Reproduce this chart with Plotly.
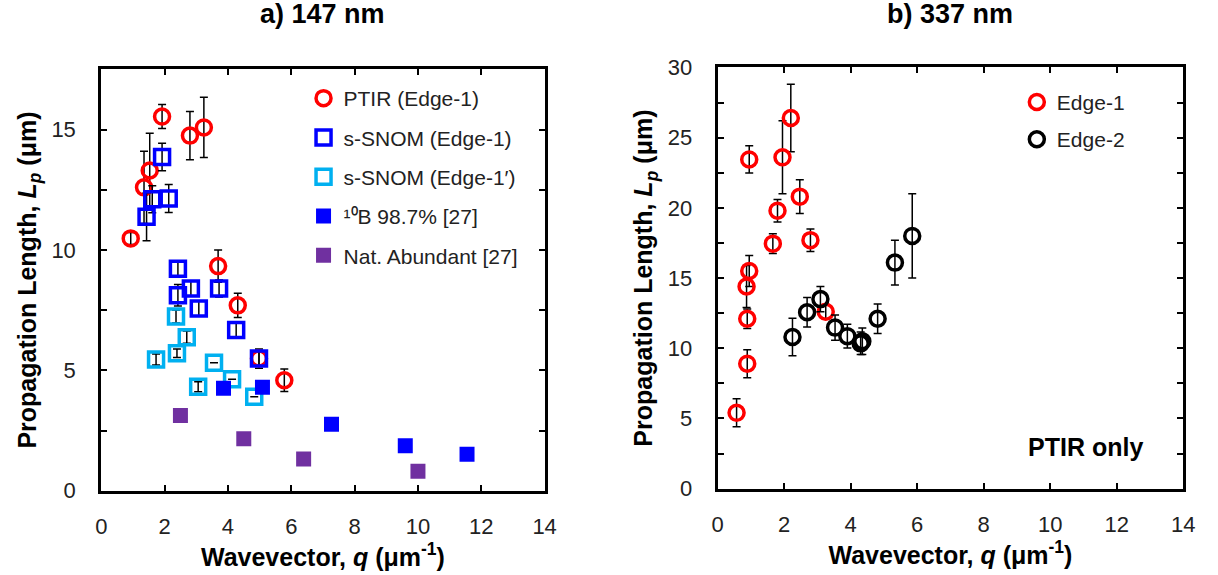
import plotly.graph_objects as go

# ---- panel a) 147 nm ----
ptir_q = [0.93, 1.35, 1.53, 1.92, 2.80, 3.24, 3.69, 4.31, 4.98, 5.78]
ptir_L = [10.48, 12.60, 13.30, 15.54, 14.75, 15.09, 9.33, 7.70, 5.49, 4.59]
ptir_err = [0.25, 1.5, 1.55, 0.5, 1.0, 1.25, 0.67, 0.5, 0.4, 0.47]

snom1_q = [1.43, 1.61, 1.92, 2.13, 2.42, 2.42, 2.83, 3.08, 3.72, 4.26, 4.98]
snom1_L = [11.38, 12.11, 13.86, 12.14, 9.22, 8.12, 8.40, 7.57, 8.40, 6.68, 5.49]
snom1_err = [1.0, 0.56, 0.57, 0.58, 0.3, 0.45, 0.3, 0.3, 0.35, 0.3, 0.3]

snom2_q = [1.73, 2.36, 2.39, 2.70, 3.06, 3.56, 4.13, 4.83]
snom2_L = [5.45, 7.24, 5.71, 6.38, 4.32, 5.32, 4.63, 3.90]
snom2_err = [0.23, 0.27, 0.18, 0.25, 0.21, 0, 0, 0]

b10_q = [3.86, 5.09, 7.27, 9.60, 11.55]
b10_L = [4.26, 4.30, 2.76, 1.87, 1.52]

nat_q = [2.50, 4.50, 6.39, 10.0]
nat_L = [3.12, 2.16, 1.32, 0.81]

# ---- panel b) 337 nm ----
e1_q = [0.57, 0.89, 0.89, 0.87, 0.95, 0.95, 1.66, 1.80, 1.95, 2.20, 2.47, 2.79, 3.25]
e1_L = [5.4, 8.9, 12.1, 14.4, 15.5, 23.45, 17.45, 19.8, 23.6, 26.4, 20.8, 17.7, 12.6]
e1_err = [1.0, 1.0, 0.7, 1.5, 1.1, 0.97, 0.7, 0.8, 2.6, 2.4, 1.2, 0.8, 0.5]

e2_q = [2.25, 2.69, 3.09, 3.53, 3.90, 4.30, 4.35, 4.81, 5.33, 5.85]
e2_L = [10.8, 12.56, 13.5, 11.47, 10.86, 10.35, 10.5, 12.1, 16.1, 18.0]
e2_err = [1.34, 1.05, 0.9, 0.9, 0.85, 0.8, 0.95, 1.05, 1.6, 3.0]

RED = "#FF0000"
BLUE = "#0000FF"
CYAN = "#00B0F0"
PURPLE = "#7030A0"
FONT = "Liberation Sans, Arial, sans-serif"


def errbar(vals):
    return dict(type="data", array=vals, visible=True, color="black",
                thickness=1.5, width=4)


def open_marker(symbol, color):
    # open symbols take their stroke colour from marker.color
    return dict(symbol=symbol, size=15, color=color,
                line=dict(color=color, width=3.5))


fig = go.Figure()

fig.add_trace(go.Scatter(x=ptir_q, y=ptir_L, error_y=errbar(ptir_err), mode="markers",
                         marker=open_marker("circle-open", RED), name="PTIR (Edge-1)",
                         xaxis="x", yaxis="y", legend="legend", legendgroup="a1"))
fig.add_trace(go.Scatter(x=snom1_q, y=snom1_L, error_y=errbar(snom1_err), mode="markers",
                         marker=open_marker("square-open", BLUE), name="s-SNOM (Edge-1)",
                         xaxis="x", yaxis="y", legend="legend", legendgroup="a2"))
fig.add_trace(go.Scatter(x=snom2_q, y=snom2_L, error_y=errbar(snom2_err), mode="markers",
                         marker=open_marker("square-open", CYAN), name="s-SNOM (Edge-1′)",
                         xaxis="x", yaxis="y", legend="legend", legendgroup="a3"))
fig.add_trace(go.Scatter(x=b10_q, y=b10_L, mode="markers",
                         marker=dict(symbol="square", size=15, color=BLUE),
                         name="¹⁰B 98.7% [27]",
                         xaxis="x", yaxis="y", legend="legend", legendgroup="a4"))
fig.add_trace(go.Scatter(x=nat_q, y=nat_L, mode="markers",
                         marker=dict(symbol="square", size=15, color=PURPLE),
                         name="Nat. Abundant [27]",
                         xaxis="x", yaxis="y", legend="legend", legendgroup="a5"))

fig.add_trace(go.Scatter(x=e1_q, y=e1_L, error_y=errbar(e1_err), mode="markers",
                         marker=open_marker("circle-open", RED), name="Edge-1",
                         xaxis="x2", yaxis="y2", legend="legend2", legendgroup="b1"))
fig.add_trace(go.Scatter(x=e2_q, y=e2_L, error_y=errbar(e2_err), mode="markers",
                         marker=open_marker("circle-open", "black"), name="Edge-2",
                         xaxis="x2", yaxis="y2", legend="legend2", legendgroup="b2"))

W, H = 1218, 575
tickfont = dict(family=FONT, size=22, color="#222222")
titlefont = dict(family=FONT, size=25, color="black")


def xax(domain, anchor):
    return dict(domain=domain, anchor=anchor, range=[0, 14], dtick=2,
                ticks="inside", ticklen=6, tickwidth=2, tickcolor="black",
                ticklabelstandoff=14,
                showline=True, linewidth=3, linecolor="black", mirror="allticks",
                showgrid=False, zeroline=False, tickfont=tickfont,
                title=dict(text="<b>Wavevector, <i>q</i> (μm<sup>-1</sup>)</b>",
                           font=titlefont, standoff=2))


def yax(domain, anchor, top, standoff):
    return dict(domain=domain, anchor=anchor, range=[0, top], dtick=5,
                ticks="inside", ticklen=6, tickwidth=2, tickcolor="black",
                ticklabelstandoff=18,
                minor=dict(dtick=2.5, ticks="inside", ticklen=6, tickwidth=2,
                           tickcolor="black", showgrid=False),
                showline=True, linewidth=3, linecolor="black", mirror="allticks",
                showgrid=False, zeroline=False, tickfont=tickfont,
                title=dict(text="<b>Propagation Length, <i>L<sub>p</sub></i> (μm)</b>",
                           font=titlefont, standoff=standoff))


fig.update_layout(
    width=W, height=H, autosize=False,
    margin=dict(l=0, r=0, t=0, b=0),
    paper_bgcolor="white", plot_bgcolor="white",
    font=dict(family=FONT, color="black"),
    xaxis=xax([96.7 / W, 546.7 / W], "y"),
    yaxis=yax([1 - 500.5 / H, 1 - 60 / H], "x", 17.5, 8),
    xaxis2=xax([722.3 / W, 1195 / W], "y2"),
    yaxis2=yax([1 - 498.3 / H, 1 - 58 / H], "x2", 30, 8),
    legend=dict(x=302 / W, y=1 - 69 / H, xanchor="left", yanchor="top",
                font=dict(family=FONT, size=21, color="#222222"),
                bgcolor="rgba(0,0,0,0)", tracegroupgap=9, itemsizing="trace"),
    legend2=dict(x=1026 / W, y=1 - 73 / H, xanchor="left", yanchor="top",
                 font=dict(family=FONT, size=21, color="#222222"),
                 bgcolor="rgba(0,0,0,0)", tracegroupgap=7, itemsizing="trace"),
    showlegend=True,
    annotations=[
        dict(text="<b>a) 147 nm</b>", x=321.7 / W, y=1 - 2 / H, xref="paper", yref="paper",
             showarrow=False, font=dict(family=FONT, size=27, color="black"),
             xanchor="center", yanchor="middle"),
        dict(text="<b>b) 337 nm</b>", x=958 / W, y=1 - 2 / H, xref="paper", yref="paper",
             showarrow=False, font=dict(family=FONT, size=27, color="black"),
             xanchor="center", yanchor="middle"),
        dict(text="<b>PTIR only</b>", x=1096 / W, y=1 - 455 / H, xref="paper", yref="paper",
             showarrow=False, font=dict(family=FONT, size=25, color="black"),
             xanchor="center", yanchor="middle"),
    ],
)

fig.write_html("out.html")
